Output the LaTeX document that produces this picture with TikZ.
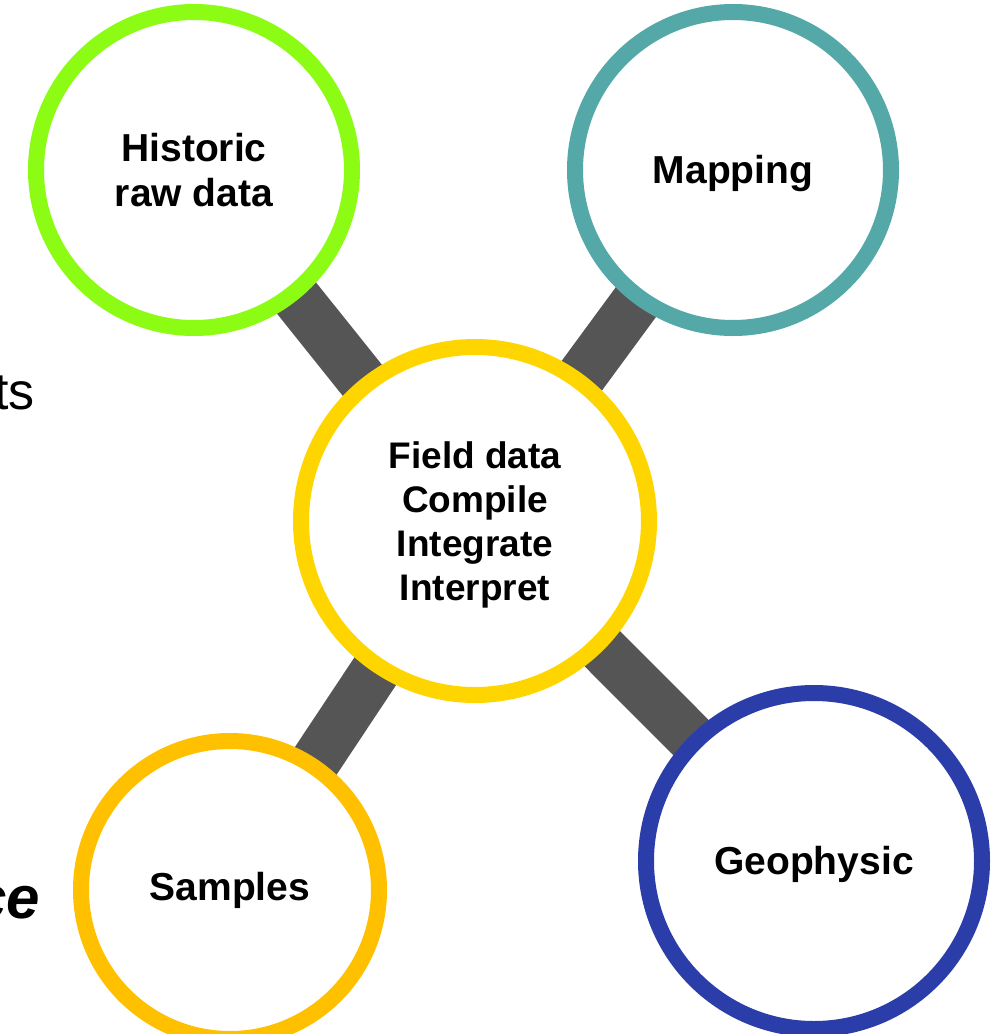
\documentclass[tikz,border=0pt]{standalone}
\usepackage{fontspec}
\setmainfont{Liberation Sans}
\usetikzlibrary{backgrounds}
\definecolor{cgreen}{RGB}{140,252,20}
\definecolor{cteal}{RGB}{85,168,168}
\definecolor{cyellow}{RGB}{255,213,0}
\definecolor{corange}{RGB}{255,192,0}
\definecolor{cblue}{RGB}{43,61,168}
\definecolor{cbar}{RGB}{85,85,85}
\tikzset{
  ring/.style={circle, draw, fill=white, line width=16pt, inner sep=0pt, align=center,
    font=\bfseries\fontsize{39}{45}\selectfont},
  bar/.style={draw=cbar, line width=50pt},
  partial/.style={inner sep=0pt}
}
\newcommand{\lowered}[2]{\raisebox{-#1}[\height][\depth]{#2}}
\begin{document}
\begin{tikzpicture}[x=1pt,y=-1pt]
\clip (0,0) rectangle (991,1034);
\node[ring, draw=cgreen, minimum size=316pt] (hist) at (194,170) {Historic\\raw data};
\node[ring, draw=cteal, minimum size=316pt] (map) at (733,170) {\lowered{3pt}{Mapping}};
\node[ring, draw=cyellow, minimum size=348pt, font=\bfseries\fontsize{37}{44}\selectfont] (field) at (475,521) {\lowered{5pt}{\begin{tabular}{@{}c@{}}Field data\\Compile\\Integrate\\Interpret\end{tabular}}};
\node[ring, draw=corange, minimum size=298pt] (samp) at (230,890) {Samples};
\node[ring, draw=cblue, minimum size=336pt] (geo) at (814,861) {\lowered{3pt}{Geophysic}};
\begin{pgfonlayer}{background}
\fill[white] (0,0) rectangle (991,1034);
\draw[bar] (hist.center) -- (field.center);
\draw[bar] (map.center) -- (field.center);
\draw[bar] (samp.center) -- (field.center);
\draw[bar] (geo.center) -- (field.center);
\end{pgfonlayer}
\node[partial, anchor=base east, font=\fontsize{52}{56}\selectfont] (ts) at (35,409) {ts};
\node[partial, anchor=base east, font=\bfseries\itshape\fontsize{60}{66}\selectfont] (ce) at (40,918) {ce};
\end{tikzpicture}
\end{document}
